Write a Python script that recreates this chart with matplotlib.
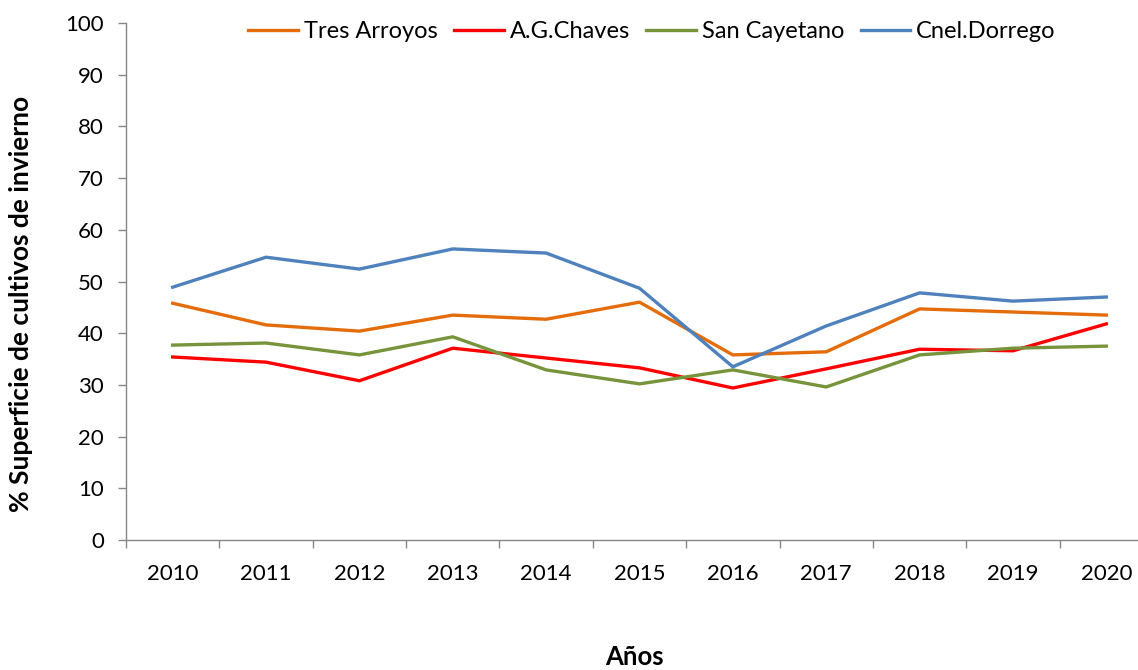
import matplotlib.pyplot as plt

years = ['2010', '2011', '2012', '2013', '2014', '2015', '2016', '2017', '2018', '2019', '2020']
tres_arroyos = [45.8, 41.6, 40.4, 43.5, 42.7, 46.0, 35.8, 36.4, 44.7, 44.1, 43.5]
ag_chaves = [35.4, 34.4, 30.8, 37.1, 35.2, 33.3, 29.4, 33.1, 36.9, 36.6, 41.8]
san_cayetano = [37.7, 38.1, 35.8, 39.3, 32.9, 30.2, 32.9, 29.6, 35.8, 37.1, 37.5]
cnel_dorrego = [48.9, 54.7, 52.4, 56.3, 55.5, 48.7, 33.5, 41.4, 47.8, 46.2, 47.0]

plt.rcParams['font.family'] = ['Lato', 'DejaVu Sans']

fig = plt.figure(figsize=(11.38, 6.70), dpi=100)
# plot area runs a little past the right edge, as in the original crop
ax = fig.add_axes([126 / 1138, 130 / 670, 1027 / 1138, 517 / 670])

x = list(range(len(years)))
ax.plot(x, tres_arroyos, color='#E46C0A', lw=2.4, label='Tres Arroyos')
ax.plot(x, ag_chaves, color='#FF0000', lw=2.4, label='A.G.Chaves')
ax.plot(x, san_cayetano, color='#77933C', lw=2.4, label='San Cayetano')
ax.plot(x, cnel_dorrego, color='#4F81BD', lw=2.4, label='Cnel.Dorrego')

ax.set_xlim(-0.5, len(years) - 0.5)
ax.set_ylim(0, 100)
ax.set_yticks(range(0, 101, 10))
ax.set_xticks([i - 0.5 for i in range(len(years) + 1)])
ax.set_xticklabels([])
ax.set_xticks(x, minor=True)
ax.set_xticklabels(years, minor=True)
ax.tick_params(axis='x', which='minor', length=0, pad=17, labelsize=16)
ax.tick_params(axis='x', which='major', length=6, color='#868686', width=1)
ax.tick_params(axis='y', length=6, color='#868686', width=1, labelsize=16, pad=10)

for s in ['top', 'right']:
    ax.spines[s].set_visible(False)
for s in ['left', 'bottom']:
    ax.spines[s].set_color('#868686')
    ax.spines[s].set_linewidth(1)

fig.text(21 / 1138, 1 - 304 / 670, '% Superficie de cultivos de invierno', rotation=90,
         ha='center', va='center', fontsize=19, fontweight='bold')
fig.text(634 / 1138, 1 / 670, 'Años', ha='center', va='bottom', fontsize=18.5, fontweight='bold')

ax.legend(loc='upper center', bbox_to_anchor=(652 / 1138, 1.0), bbox_transform=fig.transFigure,
          ncol=4, frameon=False, fontsize=17, handlelength=2.1, handletextpad=0.25,
          columnspacing=0.7, borderaxespad=0.5)

fig.savefig('out.png', dpi=100)
